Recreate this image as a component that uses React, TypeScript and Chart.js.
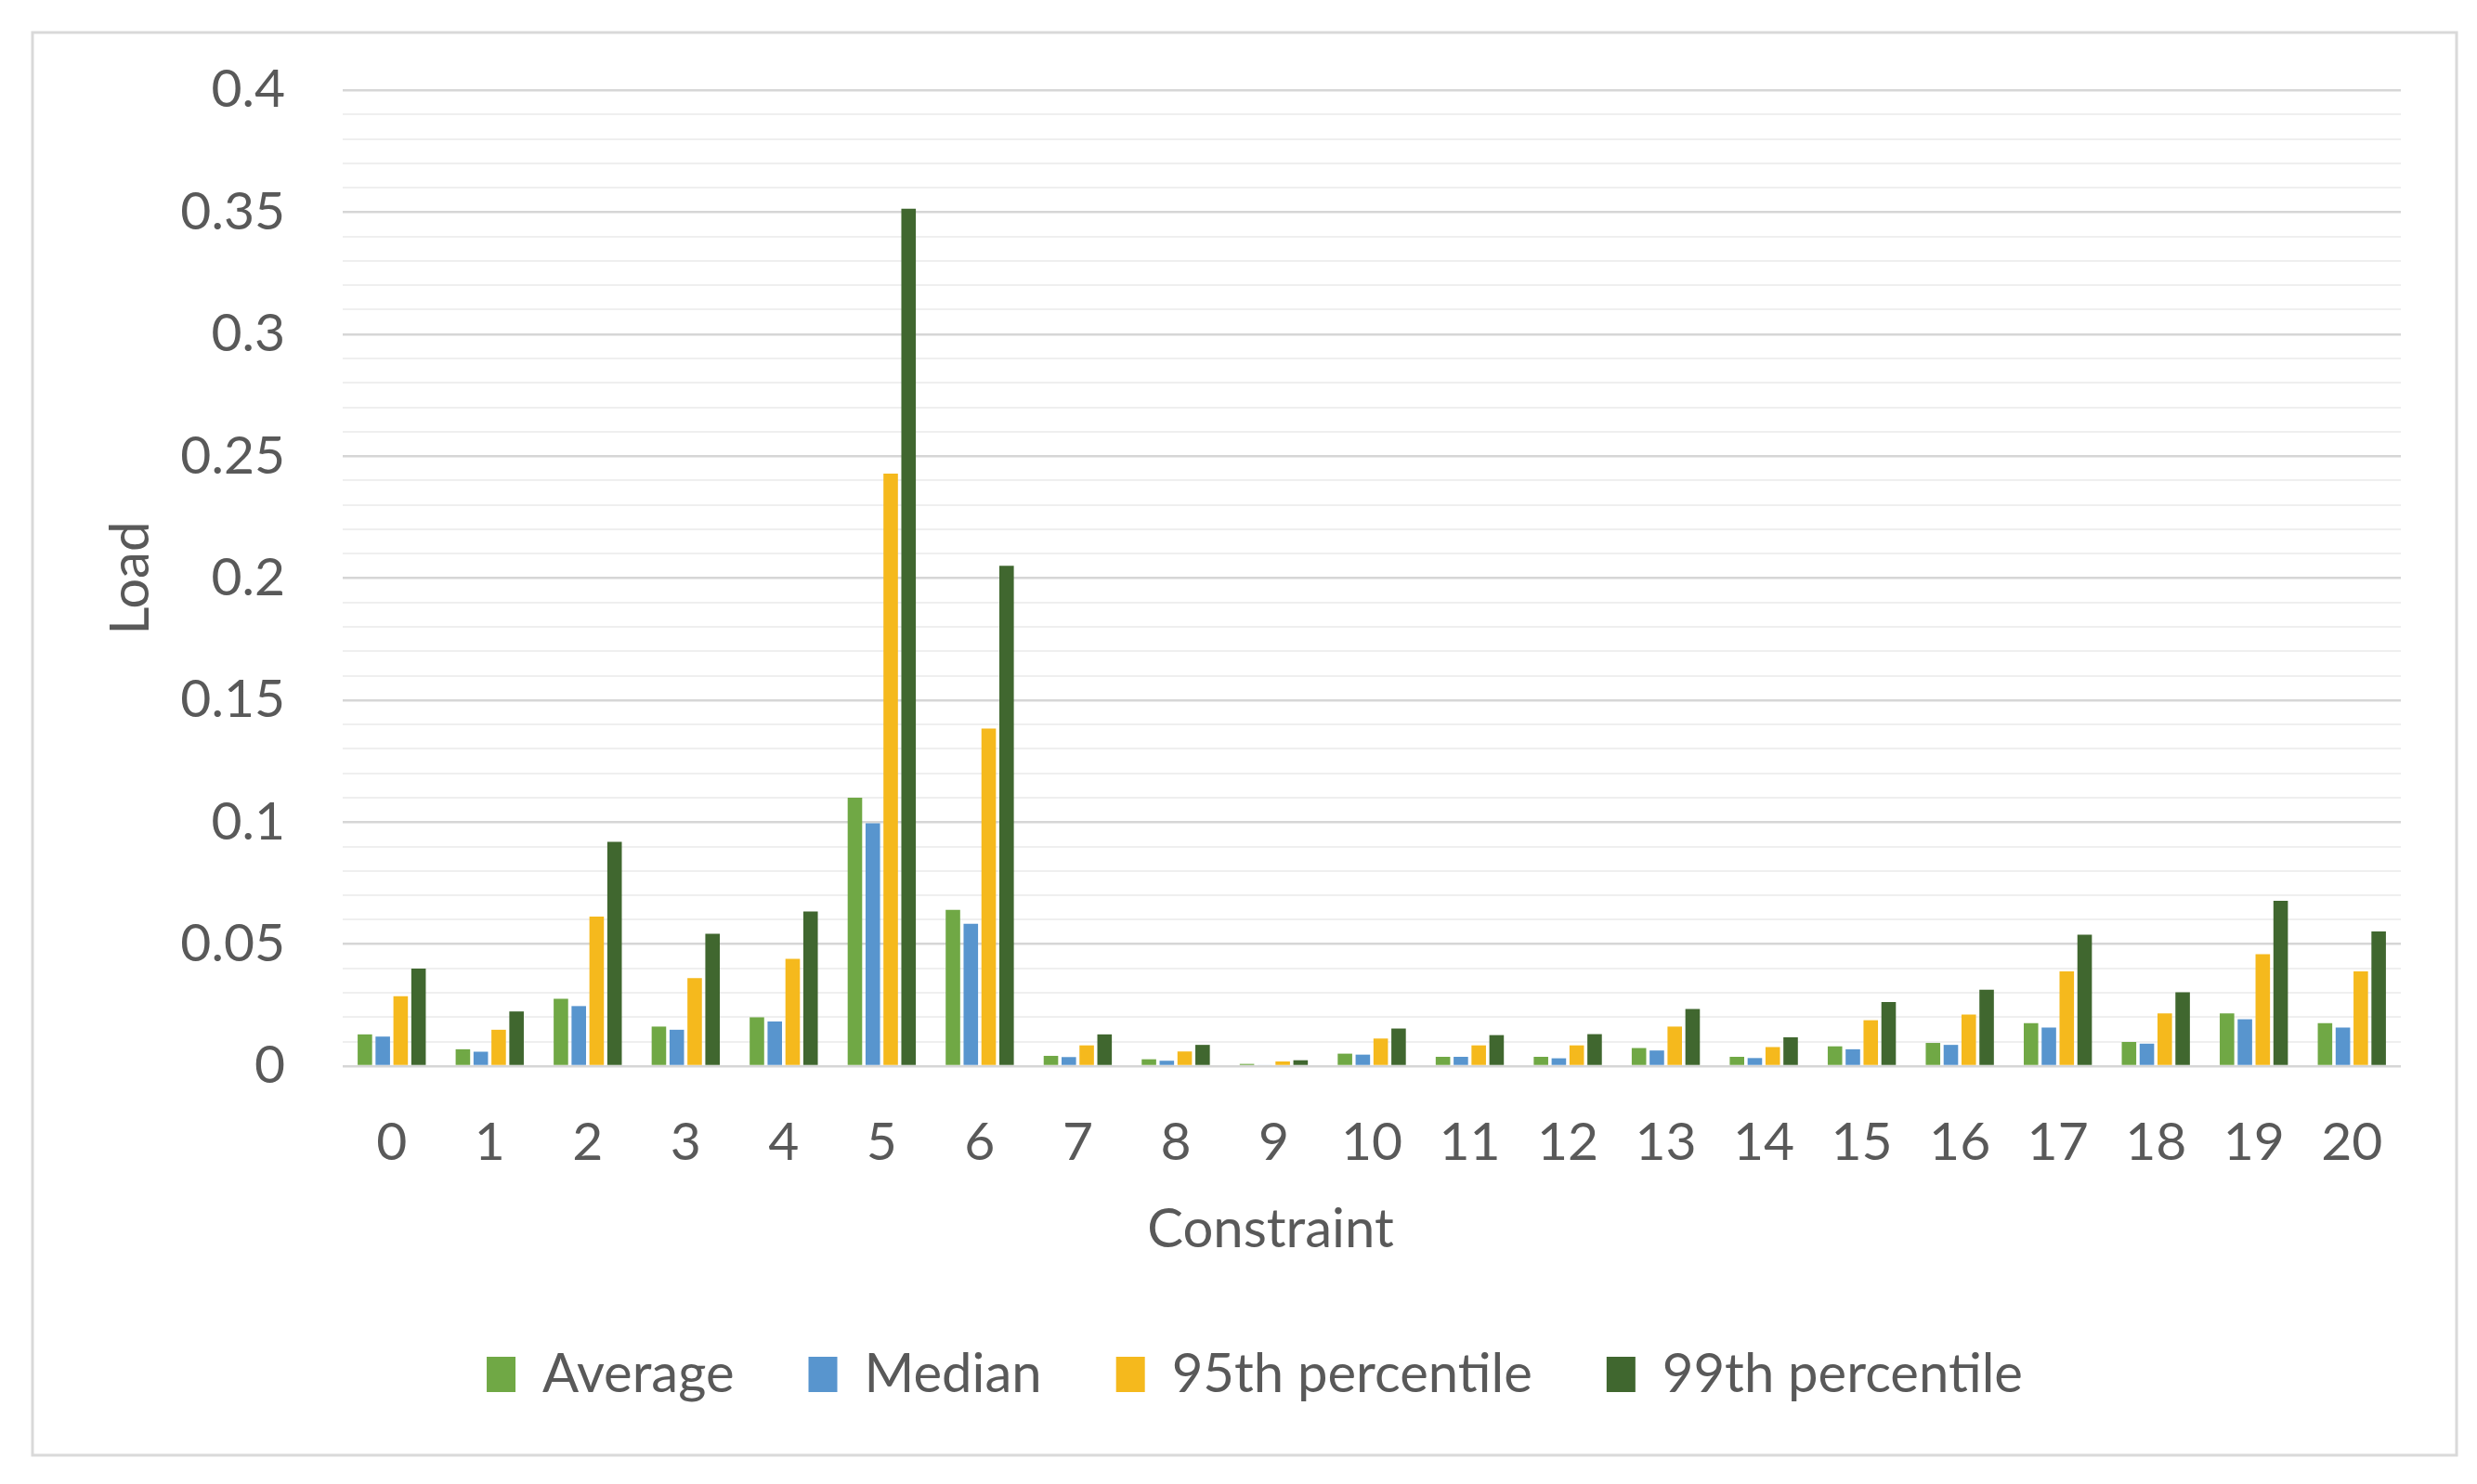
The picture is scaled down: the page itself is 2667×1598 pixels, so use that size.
import React, { useEffect, useRef } from "react";
import { Chart, registerables } from "chart.js";

Chart.register(...registerables);

const categories = ["0","1","2","3","4","5","6","7","8","9","10","11","12","13","14","15","16","17","18","19","20"];
const average = [0.013,0.0069,0.0276,0.0162,0.020,0.110,0.064,0.0042,0.0028,0.0009,0.0051,0.0038,0.0038,0.0074,0.0038,0.0081,0.0095,0.0176,0.0099,0.0216,0.0176];
const median = [0.0121,0.0059,0.0246,0.0149,0.0183,0.0995,0.0583,0.0037,0.0022,0.0005,0.0047,0.0038,0.0032,0.0064,0.0033,0.0069,0.0087,0.0158,0.0092,0.0192,0.0158];
const p95 = [0.0286,0.0149,0.0613,0.0361,0.044,0.2428,0.1383,0.0085,0.006,0.0019,0.0113,0.0085,0.0085,0.0162,0.0078,0.0188,0.0211,0.0388,0.0216,0.0459,0.0388];
const p99 = [0.040,0.0224,0.0919,0.0542,0.0634,0.3514,0.205,0.013,0.0087,0.0024,0.0154,0.0127,0.0131,0.0234,0.0118,0.0263,0.0313,0.0539,0.0303,0.0677,0.0552];
const seriesNames = ["Average","Median","95th percentile","99th percentile"];
const seriesColors = ["#70A845","#5895CE","#F5B91D","#40672F"];
const yMajorTicks = ["0","0.05","0.1","0.15","0.2","0.25","0.3","0.35","0.4"];
const xTitle = "Constraint";
const yTitle = "Load";

const FONT = "Lato, 'Open Sans', sans-serif";
const TEXT = "#595959";

const borderPlugin = {
  id: "outerBorder",
  beforeDraw(chart: any) {
    const ctx = chart.ctx;
    ctx.save();
    ctx.fillStyle = "#ffffff";
    ctx.fillRect(0, 0, chart.width, chart.height);
    ctx.strokeStyle = "#D9D9D9";
    ctx.lineWidth = 3;
    ctx.strokeRect(35, 35, 2610, 1532);
    ctx.restore();
  },
  afterDraw(chart: any) {
    const ctx = chart.ctx;
    const area = chart.chartArea;
    ctx.save();
    ctx.fillStyle = TEXT;
    ctx.font = `58px ${FONT}`;
    ctx.textAlign = "center";
    ctx.textBaseline = "middle";
    ctx.fillText(xTitle, 1368, area.bottom + 176);
    ctx.restore();
  },
};

export default function App() {
  const ref = useRef<HTMLCanvasElement>(null);
  useEffect(() => {
    document.body.style.margin = "0";
    const data = [average, median, p95, p99];
    const chart = new Chart(ref.current as HTMLCanvasElement, {
      type: "bar",
      data: {
        labels: categories,
        datasets: seriesNames.map((n, i) => ({
          label: n,
          data: data[i],
          backgroundColor: seriesColors[i],
          borderWidth: 0,
          categoryPercentage: 0.73,
          barPercentage: 0.81,
        })),
      },
      options: {
        animation: false,
        responsive: false,
        maintainAspectRatio: false,
        layout: { padding: { top: 97, right: 82, bottom: 79, left: 117 } },
        plugins: {
          tooltip: { enabled: false },
          legend: {
            position: "bottom",
            labels: {
              color: TEXT,
              font: { family: FONT, size: 58 },
              boxWidth: 31,
              boxHeight: 38,
              padding: 80,
            },
          },
        },
        scales: {
          x: {
            grid: { display: false, drawTicks: false },
            border: { display: false },
            ticks: { color: TEXT, font: { family: FONT, size: 57 }, padding: 48, maxRotation: 0 },
            title: { display: false },
            afterFit(scale: any) {
              scale.height = 223;
            },
          },
          y: {
            min: 0,
            max: 0.4,
            grid: {
              drawTicks: false,
              color: (c: any) => (c.index % 5 === 0 ? "#D6D6D6" : "#EFEFEF"),
              lineWidth: (c: any) => (c.index % 5 === 0 ? 2.5 : 2),
            },
            border: { display: false },
            ticks: {
              stepSize: 0.01,
              autoSkip: false,
              color: TEXT,
              font: { family: FONT, size: 57 },
              padding: 62,
              callback: (_v: any, i: number) => (i % 5 === 0 ? yMajorTicks[i / 5] : ""),
            },
            title: {
              display: true,
              text: yTitle,
              color: TEXT,
              font: { family: FONT, size: 58 },
              padding: { top: -11, bottom: 0 },
            },
            afterFit(scale: any) {
              scale.width = 252;
            },
          },
        },
      },
      plugins: [borderPlugin],
    } as any);
    return () => chart.destroy();
  }, []);
  return (
    <div style={{ width: 2667, height: 1598, position: "relative" }}>
      <canvas ref={ref} width={2667} height={1598} style={{ display: "block", width: 2667, height: 1598 }} />
    </div>
  );
}
